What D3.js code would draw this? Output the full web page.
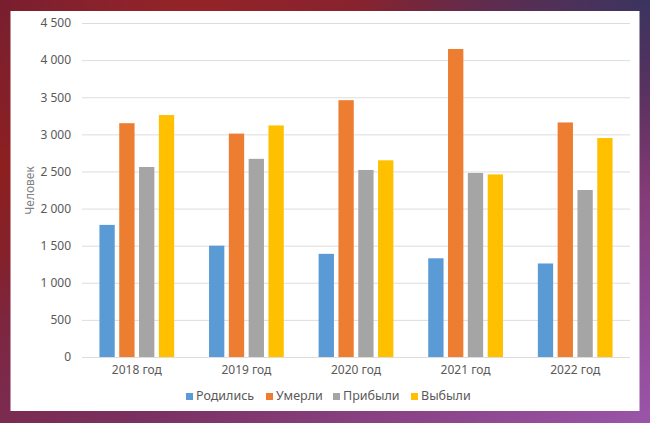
<!DOCTYPE html>
<html><head><meta charset="utf-8">
<script src="https://cdn.jsdelivr.net/npm/d3@7"></script>
<style>html,body{margin:0;padding:0;overflow:hidden;background:#fff}svg{display:block}</style>
</head><body>
<script>
const categories = ["2018 год","2019 год","2020 год","2021 год","2022 год"];
const seriesNames = ["Родились","Умерли","Прибыли","Выбыли"];
const born    = [1780,1500,1390,1330,1260];
const died    = [3150,3010,3460,4150,3160];
const arrived = [2560,2670,2520,2480,2250];
const left    = [3260,3120,2650,2460,2950];
const yTicks  = [0,500,1000,1500,2000,2500,3000,3500,4000,4500];
const yTitle = "Человек";
const colors = ["#5B9BD5","#ED7D31","#A5A5A5","#FFC000"];

const W=650,H=423;
const svg=d3.select("body").append("svg").attr("width",W).attr("height",H);
const defs=svg.append("defs");
const lg=defs.append("linearGradient").attr("id","bg").attr("x1","0").attr("y1","0").attr("x2","1").attr("y2","1");
[["0%","#6a1b33"],["30%","#7e2233"],["60%","#7a3060"],["100%","#9a55aa"]].forEach(s=>lg.append("stop").attr("offset",s[0]).attr("stop-color",s[1]));
const r1=defs.append("radialGradient").attr("id","red").attr("cx","0.3").attr("cy","0.05").attr("r","0.45");
r1.append("stop").attr("offset","0%").attr("stop-color","#962428").attr("stop-opacity",1);
r1.append("stop").attr("offset","100%").attr("stop-color","#962428").attr("stop-opacity",0);
const r2=defs.append("radialGradient").attr("id","red2").attr("cx","0").attr("cy","0.4").attr("r","0.35");
r2.append("stop").attr("offset","0%").attr("stop-color","#8e1f20").attr("stop-opacity",1);
r2.append("stop").attr("offset","100%").attr("stop-color","#8e1f20").attr("stop-opacity",0);
const r3=defs.append("radialGradient").attr("id","blue").attr("cx","1").attr("cy","0").attr("r","0.45");
r3.append("stop").attr("offset","0%").attr("stop-color","#3a3460").attr("stop-opacity",1);
r3.append("stop").attr("offset","100%").attr("stop-color","#3a3460").attr("stop-opacity",0);
svg.append("rect").attr("width",W).attr("height",H).attr("fill","url(#bg)");
svg.append("rect").attr("width",W).attr("height",H).attr("fill","url(#red)");
svg.append("rect").attr("width",W).attr("height",H).attr("fill","url(#red2)");
svg.append("rect").attr("width",W).attr("height",H).attr("fill","url(#blue)");
svg.append("rect").attr("x",10.5).attr("y",11).attr("width",629).attr("height",400).attr("fill","#fff");

const font="'Noto Sans', 'Open Sans', sans-serif";
const x0=d3.scaleBand().domain(categories).range([82,630]).paddingInner(0.318).paddingOuter(0.159);
const x1=d3.scaleBand().domain(seriesNames).range([0,x0.bandwidth()]).paddingInner(0.227);
const y=d3.scaleLinear().domain([0,4500]).range([357,23]);

const fmt=d3.formatLocale({decimal:",",thousands:"\u00a0",grouping:[3],currency:["",""]}).format(",d");

const yAxis=svg.append("g").attr("transform","translate(82,0)")
  .call(d3.axisLeft(y).tickValues(yTicks).tickFormat(fmt).tickSize(-548).tickPadding(11));
yAxis.select(".domain").remove();
yAxis.selectAll(".tick line").attr("stroke","#d9d9d9").attr("stroke-width",0.9);
yAxis.selectAll(".tick text").attr("fill","#595959").style("font-family",font).style("font-size","12px");

const series=[born,died,arrived,left];
const rows=categories.map((c,i)=>({cat:c,vals:seriesNames.map((s,j)=>({s,v:series[j][i],c:colors[j]}))}));
svg.append("g").selectAll("g").data(rows).join("g")
  .attr("transform",d=>`translate(${x0(d.cat)},0)`)
  .selectAll("rect").data(d=>d.vals).join("rect")
  .attr("x",d=>x1(d.s)).attr("width",x1.bandwidth())
  .attr("y",d=>y(d.v)).attr("height",d=>y(0)-y(d.v)).attr("fill",d=>d.c);

const xAxis=svg.append("g").attr("transform","translate(0,357)")
  .call(d3.axisBottom(x0).tickSize(0).tickPadding(8));
xAxis.select(".domain").remove();
xAxis.selectAll(".tick text").attr("fill","#595959").style("font-family",font).style("font-size","12px");

svg.append("text").attr("transform","translate(34,190.5) rotate(-90)").attr("text-anchor","middle")
  .attr("fill","#7f7f7f").style("font-family",font).style("font-size","12px").text(yTitle);

const legX=[186,266,333,411];
const leg=svg.append("g").selectAll("g").data(seriesNames).join("g")
  .attr("transform",(d,i)=>`translate(${legX[i]},0)`);
leg.append("rect").attr("x",0).attr("y",393).attr("width",7).attr("height",7).attr("fill",(d,i)=>colors[i]);
leg.append("text").attr("x",10).attr("y",400).attr("fill","#595959").style("font-family",font).style("font-size","12.5px").text(d=>d);
</script>
</body></html>
